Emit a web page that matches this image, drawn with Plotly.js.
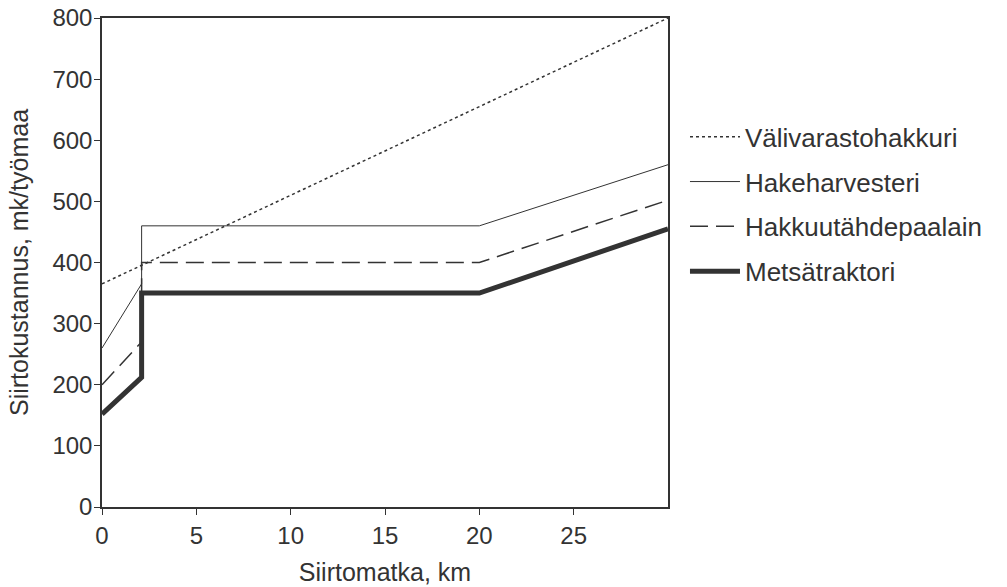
<!DOCTYPE html>
<html><head><meta charset="utf-8">
<script src="https://cdn.plot.ly/plotly-3.0.1.min.js"></script>
<style>body{margin:0;background:#fff}#c{width:1007px;height:587px}</style>
</head><body><div id="c"></div>
<script>
const names = ["Välivarastohakkuri","Hakeharvesteri","Hakkuutähdepaalain","Metsätraktori"];
const xVali = [0, 30];
const yVali = [365, 800];
const xHake = [0, 2.1, 2.1, 20, 30];
const yHake = [260, 365, 460, 460, 560];
const xPaal = [0, 2.1, 2.1, 20, 30];
const yPaal = [200, 270, 400, 400, 502];
const xMets = [0, 2.1, 2.1, 20, 30];
const yMets = [152, 212, 350, 350, 455];
const xTicks = [0,5,10,15,20,25];
const yTicks = [0,100,200,300,400,500,600,700,800];

const col = '#333';
const traces = [
  {x:xVali,y:yVali,name:names[0],mode:'lines',line:{color:col,width:1.5,dash:'dot'},legendgroup:'a'},
  {x:xHake,y:yHake,name:names[1],mode:'lines',line:{color:col,width:1},legendgroup:'b'},
  {x:xPaal,y:yPaal,name:names[2],mode:'lines',line:{color:col,width:1.5,dash:'18px,8px'},legendgroup:'c'},
  {x:xMets,y:yMets,name:names[3],mode:'lines',line:{color:col,width:5},legendgroup:'d'}
];
const layout = {
  width:1007,height:587,
  margin:{l:102,r:339,t:18,b:80},
  paper_bgcolor:'#fff',plot_bgcolor:'#fff',
  font:{family:'Liberation Sans, Arial, sans-serif',size:24,color:col},
  xaxis:{range:[0,30],tickvals:xTicks,ticks:'outside',ticklen:6,tickcolor:col,
    showline:true,linecolor:col,linewidth:1.5,mirror:true,showgrid:false,zeroline:false,
    tickfont:{size:24},
    title:{text:'Siirtomatka, km',standoff:16,font:{size:25}}},
  yaxis:{range:[0,800],tickvals:yTicks,ticks:'outside',ticklen:6,tickcolor:col,
    showline:true,linecolor:col,linewidth:1.5,mirror:true,showgrid:false,zeroline:false,
    tickfont:{size:24},ticklabelstandoff:-3,
    title:{text:'Siirtokustannus, mk/työmaa',standoff:17,font:{size:25}}},
  showlegend:true,
  legend:{x:1.03,y:0.805,xanchor:'left',yanchor:'top',traceorder:'grouped',tracegroupgap:8,
    itemwidth:50,font:{size:26,color:col},bgcolor:'rgba(0,0,0,0)'}
};
Plotly.newPlot('c',traces,layout,{displayModeBar:false});
</script></body></html>
